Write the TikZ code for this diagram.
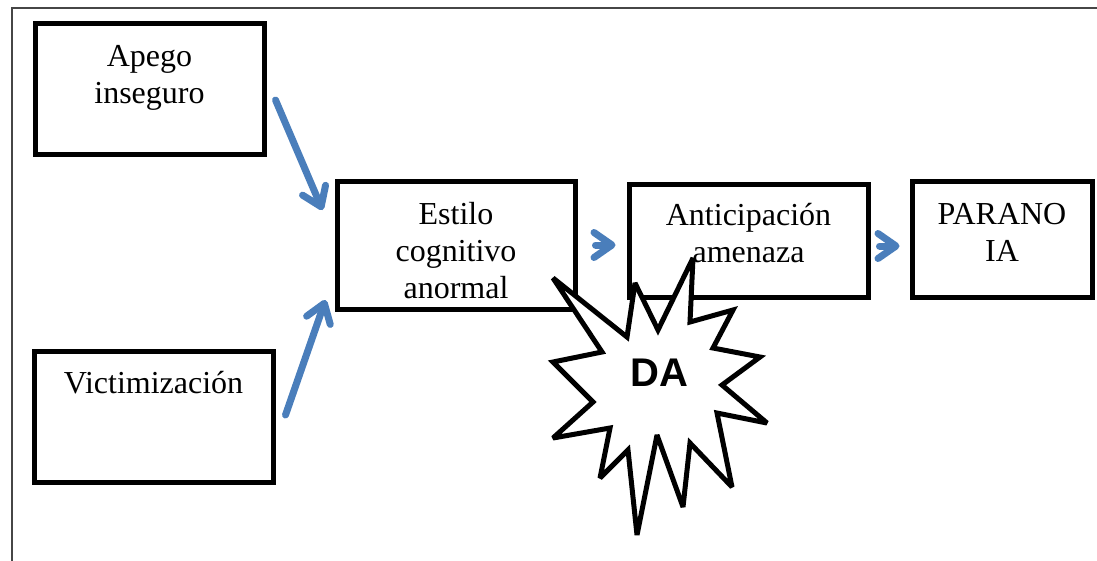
\documentclass[tikz,border=0pt]{standalone}
\usepackage{fontspec}
\setmainfont{Liberation Serif}
\newfontfamily\dafont{Liberation Sans}
\usetikzlibrary{arrows.meta}
\definecolor{arrowblue}{RGB}{74,126,187}
\definecolor{framegray}{RGB}{70,70,70}
\begin{document}
\begin{tikzpicture}[x=1pt,y=-1pt,line cap=round,
  box/.style={draw,line width=5pt,inner sep=0pt},
  txt/.style={font=\fontsize{32}{37}\selectfont,align=center,anchor=north,inner sep=0pt},
  conn/.style={draw=arrowblue,line width=7pt,line join=round,-{Straight Barb[length=18pt,width=25pt,round]}},
  burst/.style={draw,fill=white,line width=5pt,line join=miter,miter limit=3}]
\def \picw{1097};
\def \pich{560};
\useasboundingbox (0,0) rectangle (\picw,\pich);
\clip (0,0) rectangle (\picw,\pich);
\draw[framegray,line width=2pt] (12,8) rectangle (\picw+20,\pich+20);
% boxes
\node[box,minimum width=229,minimum height=131] (apego) at (149.5,88.5) {};
\node[box,minimum width=239,minimum height=131] (victim) at (153.5,416.5) {};
\node[box,minimum width=238,minimum height=128] (estilo) at (456,245) {};
\node[box,minimum width=239,minimum height=113] (antic) at (748.5,240.5) {};
\node[box,minimum width=180,minimum height=116] (paranoia) at (1002,239) {};
\node[txt] (apegotxt) at ([yshift=-24.5]apego.north) {Apego\\inseguro};
\node[txt] (victimtxt) at ([yshift=-23]victim.north) {Victimización};
\node[txt] (estilotxt) at ([yshift=-24]estilo.north) {Estilo\\cognitivo\\anormal};
\node[txt] (antictxt) at ([yshift=-22]antic.north) {Anticipación\\amenaza};
\node[txt] (paranoiatxt) at ([yshift=-25]paranoia.north) {PARANO\\IA};
% arrows
\draw[conn] ([shift={(9,11.5)}]apego.east) -- ([shift={(-12,-35)}]estilo.west);
\draw[conn] ([shift={(10,-1.5)}]victim.east) -- ([shift={(-9,55)}]estilo.west);
\draw[conn] ([xshift=18]estilo.east) -- ([shift={(-11,4.5)}]antic.west);
\draw[conn] ([shift={(9,5.5)}]antic.east) -- ([shift={(-10,7)}]paranoia.west);
% burst
\draw[burst] plot coordinates {(553,278) (627,337) (635,283) (658,330) (693,258) (690,322)
  (733,310) (713,348) (760,357) (722,385) (767,423) (717,413) (732,487) (690,443)
  (683,507) (657,435) (637,535) (628,450) (600,478) (610,428) (553,438) (593,402)
  (553,362) (602,352)} -- cycle;
\node[font=\dafont\bfseries\fontsize{40}{40}\selectfont,inner sep=0pt] (da) at (659,373) {DA};
\end{tikzpicture}
\end{document}
